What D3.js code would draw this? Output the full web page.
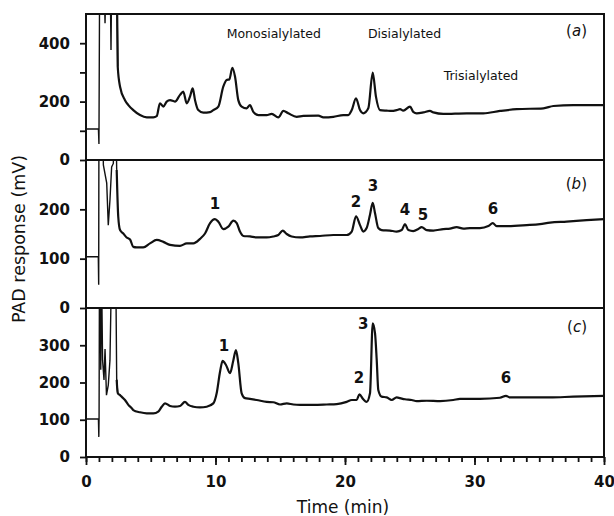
<!DOCTYPE html>
<html>
<head>
<meta charset="utf-8">
<style>
  body { margin: 0; background: #fff; }
  svg text { font-family: "DejaVu Sans", sans-serif; fill: #111; }
</style>
</head>
<body>
<svg id="chart" width="614" height="516"></svg>
<script src="https://cdn.jsdelivr.net/npm/d3@7"></script>
<script>
// PAD chromatograms, three panels sharing the time axis
// each trace is a list of [time (min), response (mV)]

const traceA = [[0,106],[0.96,106],[1.0,55],[1.06,700],[1.35,700],[1.47,468],[1.58,700],[1.85,700],[1.93,377],[2.0,700],[2.36,700],[2.45,320],[2.63,251],[3.01,205],[3.27,188],[3.65,171],[4.17,154],[4.69,146],[5.2,146],[5.46,150],[5.71,194],[5.97,183],[6.23,200],[6.49,205],[6.87,200],[7.26,223],[7.51,234],[7.78,194],[8.03,217],[8.24,245],[8.42,205],[8.67,171],[9.06,162],[9.58,164],[9.83,171],[10.22,183],[10.6,251],[10.86,274],[11.07,276],[11.3,316],[11.51,285],[11.76,205],[12.02,183],[12.41,177],[12.66,188],[12.92,165],[13.31,154],[13.95,154],[14.34,158],[14.85,146],[15.24,168],[15.62,160],[16.27,148],[16.78,151],[17.94,152],[18.33,146],[19.1,148],[19.87,154],[20.25,154],[20.52,171],[20.85,211],[21.16,171],[21.41,160],[21.8,177],[22.14,299],[22.39,217],[22.7,171],[23.22,169],[23.61,168],[23.99,171],[24.25,174],[24.5,169],[25.02,183],[25.27,165],[25.54,160],[26.05,163],[26.56,168],[26.82,163],[27.59,158],[29.4,160],[30.68,160],[31.97,168],[33.26,174],[35.32,177],[36.09,185],[37.63,188],[40,188]]

const traceB = [[0,104],[0.95,104],[0.98,47],[1.0,400],[1.3,400],[1.34,290],[1.6,253],[1.72,168],[1.85,219],[1.98,286],[2.11,293],[2.2,400],[2.3,400],[2.37,280],[2.49,185],[2.63,158],[2.88,151],[3.14,143],[3.4,139],[3.65,124],[3.91,123],[4.42,123],[4.94,131],[5.46,138],[5.97,134],[6.49,128],[7.26,126],[7.78,131],[8.29,131],[8.8,140],[9.19,151],[9.58,172],[9.96,180],[10.22,175],[10.6,160],[10.99,165],[11.38,177],[11.64,172],[11.89,155],[12.15,146],[12.66,145],[13.18,143],[13.95,143],[14.46,145],[14.85,148],[15.19,157],[15.5,150],[15.88,145],[16.53,143],[17.3,145],[18.07,146],[19.1,148],[20.13,148],[20.52,155],[20.85,186],[21.16,168],[21.41,155],[21.67,162],[21.93,189],[22.14,213],[22.32,192],[22.57,162],[22.83,158],[23.47,157],[23.99,155],[24.38,158],[24.63,170],[24.89,158],[25.27,156],[25.66,160],[25.92,164],[26.31,158],[26.82,157],[27.59,160],[28.11,161],[28.62,164],[29.14,161],[29.65,162],[30.42,162],[31.07,166],[31.41,172],[31.71,166],[32.49,166],[34.03,168],[35.06,170],[35.83,173],[37.12,175],[38.66,178],[40,180]]

const traceC = [[0,102],[0.96,102],[0.99,54],[1.01,108],[1.04,500],[1.1,500],[1.14,234],[1.2,500],[1.28,260],[1.39,207],[1.47,290],[1.58,166],[1.72,193],[1.85,260],[1.97,500],[2.3,500],[2.37,207],[2.45,172],[2.63,166],[2.75,162],[3.01,153],[3.27,140],[3.53,131],[3.65,126],[4.17,120],[4.69,117],[5.2,117],[5.58,122],[5.85,135],[6.1,144],[6.49,137],[6.87,135],[7.26,137],[7.64,148],[7.9,140],[8.29,135],[8.8,133],[9.32,135],[9.83,144],[10.09,171],[10.35,229],[10.55,258],[10.81,247],[11.12,225],[11.38,260],[11.58,287],[11.76,252],[12.02,171],[12.28,158],[12.66,156],[13.18,153],[13.95,148],[14.46,147],[14.98,141],[15.5,144],[16.01,141],[16.53,140],[17.56,140],[18.59,141],[19.36,142],[20.13,148],[20.52,153],[20.9,153],[21.11,168],[21.41,155],[21.67,148],[21.93,171],[22.14,359],[22.32,332],[22.45,260],[22.57,180],[22.83,162],[23.22,160],[23.61,153],[23.99,160],[24.25,158],[24.63,155],[25.15,153],[25.54,150],[26.31,151],[27.34,150],[28.36,153],[28.88,156],[30.42,156],[31.97,159],[32.43,164],[32.74,160],[34.03,160],[35.83,160],[37.63,162],[40,164]]

// y ticks per panel, and which of them carry a label
const yTicksA = [0, 100, 200, 300, 400]
const yLabelsA = [0, 200, 400]
const yTicksB = [0, 100, 200]
const yLabelsB = [0, 100, 200]
const yTicksC = [0, 100, 200, 300]
const yLabelsC = [0, 100, 200, 300]

const xMinorTicks = d3.range(0, 41, 1)
const xMajorTicks = [0, 10, 20, 30, 40]

// injection front is drawn with a thin pen up to this time
const frontEnd = 2.45

// text annotations: [text, time, mV]
const notesA = [['Monosialylated', 14.5, 418], ['Disialylated', 24.6, 418], ['Trisialylated', 30.5, 274]]
const peaksB = [['1', 9.96, 200], ['2', 20.85, 204], ['3', 22.16, 238], ['4', 24.63, 189], ['5', 26.02, 178], ['6', 31.43, 190]]
const peaksC = [['1', 10.66, 285], ['2', 21.08, 199], ['3', 21.41, 343], ['6', 32.43, 200]]

const svg = d3.select('#chart')
const left = 86, right = 604

const x = d3.scaleLinear().domain([0, 40]).range([left, right])

const panels = [
  { id: 'a', data: traceA, max: 500, top: 14, bottom: 160, ticks: yTicksA, labels: yLabelsA, notes: notesA, tagY: 36 },
  { id: 'b', data: traceB, max: 300, top: 160, bottom: 308, ticks: yTicksB, labels: yLabelsB, notes: peaksB, tagY: 189 },
  { id: 'c', data: traceC, max: 400, top: 308, bottom: 457, ticks: yTicksC, labels: yLabelsC, notes: peaksC, tagY: 332 }
]

panels.forEach(p => {
  const y = d3.scaleLinear().domain([0, p.max]).range([p.bottom, p.top])

  svg.append('clipPath').attr('id', 'clip-' + p.id)
    .append('rect')
    .attr('x', left).attr('y', p.top)
    .attr('width', right - left).attr('height', p.bottom - p.top)

  const line = d3.line()
    .x(d => x(d[0]))
    .y(d => y(d[1]))
    .curve(d3.curveMonotoneX)

  // thin pen for the injection spikes, heavier for the rest
  const front = p.data.filter(d => d[0] <= frontEnd)
  const rest = p.data.filter(d => d[0] >= frontEnd - 0.1)

  svg.append('path')
    .datum(front)
    .attr('clip-path', `url(#clip-${p.id})`)
    .attr('fill', 'none')
    .attr('stroke', '#111')
    .attr('stroke-width', 1.4)
    .attr('d', d3.line().x(d => x(d[0])).y(d => y(d[1])))

  svg.append('path')
    .datum(rest)
    .attr('clip-path', `url(#clip-${p.id})`)
    .attr('fill', 'none')
    .attr('stroke', '#111')
    .attr('stroke-width', 2.2)
    .attr('stroke-linejoin', 'round')
    .attr('d', line)

  // y axis
  const yAxis = d3.axisLeft(y)
    .tickValues(p.ticks)
    .tickSize(6)
    .tickPadding(10)
    .tickFormat(d => p.labels.includes(d) ? d : '')

  const g = svg.append('g')
    .attr('transform', `translate(${left},0)`)
    .call(yAxis)
  g.select('.domain').remove()
  g.selectAll('line').attr('stroke', '#111').attr('stroke-width', 1.8)
  g.selectAll('text')
    .attr('font-size', 15)
    .attr('font-weight', 'bold')
    .style('font-family', '"DejaVu Sans", sans-serif')
    .attr('fill', '#111')

  // panel frame
  svg.append('rect')
    .attr('x', left).attr('y', p.top)
    .attr('width', right - left).attr('height', p.bottom - p.top)
    .attr('fill', 'none')
    .attr('stroke', '#111')
    .attr('stroke-width', 2)

  // annotations
  const isPeak = p.id !== 'a'
  svg.selectAll(null)
    .data(p.notes)
    .enter()
    .append('text')
    .attr('x', d => x(d[1]))
    .attr('y', d => y(d[2]))
    .attr('text-anchor', 'middle')
    .attr('font-size', isPeak ? 15 : 12.5)
    .attr('font-weight', isPeak ? 'bold' : 'normal')
    .text(d => d[0])

  // panel letter
  const tag = svg.append('text')
    .attr('x', right - 17)
    .attr('y', p.tagY)
    .attr('text-anchor', 'end')
    .attr('font-size', 15)
  tag.append('tspan').text('(')
  tag.append('tspan').attr('font-style', 'italic').text(p.id)
  tag.append('tspan').text(')')
})

// x axis: minor ticks every minute, longer ticks with labels every 10
const xMinor = svg.append('g')
  .attr('transform', `translate(0,457)`)
  .call(d3.axisBottom(x).tickValues(xMinorTicks).tickSize(5).tickFormat(''))
xMinor.select('.domain').remove()
xMinor.selectAll('line').attr('stroke', '#111').attr('stroke-width', 1.8)

const xMajor = svg.append('g')
  .attr('transform', `translate(0,457)`)
  .call(d3.axisBottom(x).tickValues(xMajorTicks).tickSize(8).tickPadding(11).tickFormat(d3.format('d')))
xMajor.select('.domain').remove()
xMajor.selectAll('line').attr('stroke', '#111').attr('stroke-width', 1.8)
xMajor.selectAll('text')
  .attr('font-size', 15)
  .attr('font-weight', 'bold')
  .style('font-family', '"DejaVu Sans", sans-serif')
  .attr('fill', '#111')

// axis titles
svg.append('text')
  .attr('x', (left + right) / 2 - 2)
  .attr('y', 513)
  .attr('text-anchor', 'middle')
  .attr('font-size', 17)
  .text('Time (min)')

svg.append('text')
  .attr('transform', 'translate(25,239) rotate(-90)')
  .attr('text-anchor', 'middle')
  .attr('font-size', 17.5)
  .text('PAD response (mV)')
</script>
</body>
</html>
